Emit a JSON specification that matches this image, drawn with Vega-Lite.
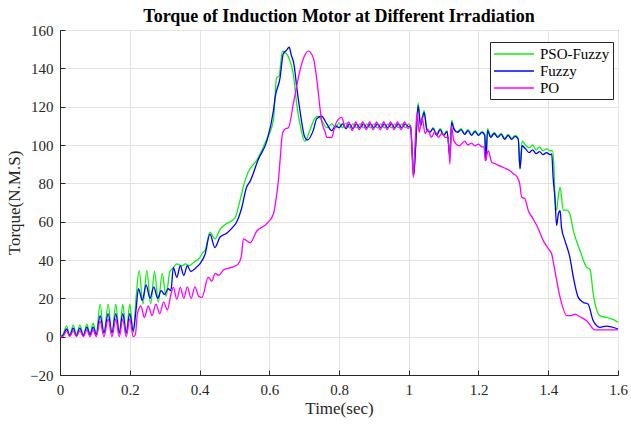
{
"$schema": "https://vega.github.io/schema/vega-lite/v6.json",
"width": 558, "height": 345,
"autosize": {"type": "none"},
"padding": {"left": 60, "top": 30, "right": 13, "bottom": 50},
"title": {"text": "Torque of Induction Motor at Different Irradiation", "font": "Liberation Serif", "fontSize": 18, "fontWeight": "bold", "color": "#000000", "anchor": "middle", "offset": -3},
"config": {"view": {"stroke": "#262626", "strokeWidth": 1}, "font": "Liberation Serif"},
"data": {"values": [
{"s":"PSO-Fuzzy","t":0,"v":0},{"s":"PSO-Fuzzy","t":0.008,"v":1},{"s":"PSO-Fuzzy","t":0.019,"v":5.5},{"s":"PSO-Fuzzy","t":0.028,"v":1},{"s":"PSO-Fuzzy","t":0.038,"v":6},{"s":"PSO-Fuzzy","t":0.047,"v":1},{"s":"PSO-Fuzzy","t":0.057,"v":6},{"s":"PSO-Fuzzy","t":0.067,"v":1},{"s":"PSO-Fuzzy","t":0.077,"v":6.5},{"s":"PSO-Fuzzy","t":0.086,"v":1.5},{"s":"PSO-Fuzzy","t":0.095,"v":7},{"s":"PSO-Fuzzy","t":0.104,"v":1.5},{"s":"PSO-Fuzzy","t":0.115,"v":17},{"s":"PSO-Fuzzy","t":0.126,"v":1.5},{"s":"PSO-Fuzzy","t":0.138,"v":17},{"s":"PSO-Fuzzy","t":0.149,"v":1.5},{"s":"PSO-Fuzzy","t":0.16,"v":17},{"s":"PSO-Fuzzy","t":0.17,"v":1.5},{"s":"PSO-Fuzzy","t":0.18,"v":17},{"s":"PSO-Fuzzy","t":0.19,"v":1.5},{"s":"PSO-Fuzzy","t":0.2,"v":17},{"s":"PSO-Fuzzy","t":0.21,"v":2},{"s":"PSO-Fuzzy","t":0.218,"v":20},{"s":"PSO-Fuzzy","t":0.227,"v":34.5},{"s":"PSO-Fuzzy","t":0.238,"v":17},{"s":"PSO-Fuzzy","t":0.249,"v":34.5},{"s":"PSO-Fuzzy","t":0.26,"v":17},{"s":"PSO-Fuzzy","t":0.271,"v":34},{"s":"PSO-Fuzzy","t":0.282,"v":18},{"s":"PSO-Fuzzy","t":0.293,"v":33},{"s":"PSO-Fuzzy","t":0.304,"v":21},{"s":"PSO-Fuzzy","t":0.315,"v":34},{"s":"PSO-Fuzzy","t":0.325,"v":36},{"s":"PSO-Fuzzy","t":0.335,"v":38},{"s":"PSO-Fuzzy","t":0.35,"v":37},{"s":"PSO-Fuzzy","t":0.36,"v":38},{"s":"PSO-Fuzzy","t":0.37,"v":37},{"s":"PSO-Fuzzy","t":0.385,"v":39},{"s":"PSO-Fuzzy","t":0.4,"v":41},{"s":"PSO-Fuzzy","t":0.41,"v":44},{"s":"PSO-Fuzzy","t":0.416,"v":45},{"s":"PSO-Fuzzy","t":0.43,"v":54.5},{"s":"PSO-Fuzzy","t":0.444,"v":51},{"s":"PSO-Fuzzy","t":0.459,"v":56},{"s":"PSO-Fuzzy","t":0.478,"v":59},{"s":"PSO-Fuzzy","t":0.502,"v":62},{"s":"PSO-Fuzzy","t":0.516,"v":71},{"s":"PSO-Fuzzy","t":0.53,"v":81},{"s":"PSO-Fuzzy","t":0.54,"v":86},{"s":"PSO-Fuzzy","t":0.564,"v":92},{"s":"PSO-Fuzzy","t":0.59,"v":102},{"s":"PSO-Fuzzy","t":0.612,"v":113},{"s":"PSO-Fuzzy","t":0.621,"v":135},{"s":"PSO-Fuzzy","t":0.628,"v":136},{"s":"PSO-Fuzzy","t":0.638,"v":149},{"s":"PSO-Fuzzy","t":0.65,"v":147.5},{"s":"PSO-Fuzzy","t":0.657,"v":145},{"s":"PSO-Fuzzy","t":0.669,"v":137},{"s":"PSO-Fuzzy","t":0.679,"v":121},{"s":"PSO-Fuzzy","t":0.688,"v":111},{"s":"PSO-Fuzzy","t":0.702,"v":102},{"s":"PSO-Fuzzy","t":0.717,"v":108},{"s":"PSO-Fuzzy","t":0.731,"v":114},{"s":"PSO-Fuzzy","t":0.74,"v":115},{"s":"PSO-Fuzzy","t":0.75,"v":113},{"s":"PSO-Fuzzy","t":0.765,"v":109},{"s":"PSO-Fuzzy","t":0.78,"v":111},{"s":"PSO-Fuzzy","t":0.79,"v":109},{"s":"PSO-Fuzzy","t":0.8,"v":111.5},{"s":"PSO-Fuzzy","t":0.81,"v":109},{"s":"PSO-Fuzzy","t":0.82,"v":111.5},{"s":"PSO-Fuzzy","t":0.83,"v":109},{"s":"PSO-Fuzzy","t":0.84,"v":111},{"s":"PSO-Fuzzy","t":0.85,"v":109},{"s":"PSO-Fuzzy","t":0.86,"v":111},{"s":"PSO-Fuzzy","t":0.87,"v":109},{"s":"PSO-Fuzzy","t":0.88,"v":111},{"s":"PSO-Fuzzy","t":0.89,"v":109},{"s":"PSO-Fuzzy","t":0.9,"v":111},{"s":"PSO-Fuzzy","t":0.91,"v":109},{"s":"PSO-Fuzzy","t":0.92,"v":111},{"s":"PSO-Fuzzy","t":0.93,"v":109},{"s":"PSO-Fuzzy","t":0.94,"v":111},{"s":"PSO-Fuzzy","t":0.95,"v":109},{"s":"PSO-Fuzzy","t":0.96,"v":111},{"s":"PSO-Fuzzy","t":0.97,"v":109},{"s":"PSO-Fuzzy","t":0.98,"v":111},{"s":"PSO-Fuzzy","t":0.99,"v":109},{"s":"PSO-Fuzzy","t":1.0,"v":111},{"s":"PSO-Fuzzy","t":1.005,"v":110},{"s":"PSO-Fuzzy","t":1.01,"v":95},{"s":"PSO-Fuzzy","t":1.014,"v":84},{"s":"PSO-Fuzzy","t":1.02,"v":100},{"s":"PSO-Fuzzy","t":1.027,"v":122},{"s":"PSO-Fuzzy","t":1.034,"v":110},{"s":"PSO-Fuzzy","t":1.044,"v":118},{"s":"PSO-Fuzzy","t":1.052,"v":108},{"s":"PSO-Fuzzy","t":1.061,"v":107},{"s":"PSO-Fuzzy","t":1.07,"v":109},{"s":"PSO-Fuzzy","t":1.08,"v":105.5},{"s":"PSO-Fuzzy","t":1.09,"v":108.5},{"s":"PSO-Fuzzy","t":1.1,"v":105.5},{"s":"PSO-Fuzzy","t":1.11,"v":107.5},{"s":"PSO-Fuzzy","t":1.118,"v":94},{"s":"PSO-Fuzzy","t":1.123,"v":113},{"s":"PSO-Fuzzy","t":1.13,"v":108.5},{"s":"PSO-Fuzzy","t":1.14,"v":107},{"s":"PSO-Fuzzy","t":1.15,"v":108.5},{"s":"PSO-Fuzzy","t":1.16,"v":106},{"s":"PSO-Fuzzy","t":1.17,"v":108},{"s":"PSO-Fuzzy","t":1.18,"v":105.5},{"s":"PSO-Fuzzy","t":1.19,"v":107.5},{"s":"PSO-Fuzzy","t":1.2,"v":105.5},{"s":"PSO-Fuzzy","t":1.21,"v":107},{"s":"PSO-Fuzzy","t":1.218,"v":105.5},{"s":"PSO-Fuzzy","t":1.221,"v":92},{"s":"PSO-Fuzzy","t":1.226,"v":108.5},{"s":"PSO-Fuzzy","t":1.235,"v":104.5},{"s":"PSO-Fuzzy","t":1.245,"v":106.5},{"s":"PSO-Fuzzy","t":1.255,"v":104.5},{"s":"PSO-Fuzzy","t":1.265,"v":106},{"s":"PSO-Fuzzy","t":1.275,"v":103.5},{"s":"PSO-Fuzzy","t":1.285,"v":105.5},{"s":"PSO-Fuzzy","t":1.295,"v":103.5},{"s":"PSO-Fuzzy","t":1.305,"v":105},{"s":"PSO-Fuzzy","t":1.314,"v":103.5},{"s":"PSO-Fuzzy","t":1.319,"v":88},{"s":"PSO-Fuzzy","t":1.325,"v":102},{"s":"PSO-Fuzzy","t":1.335,"v":100},{"s":"PSO-Fuzzy","t":1.345,"v":98.5},{"s":"PSO-Fuzzy","t":1.355,"v":100},{"s":"PSO-Fuzzy","t":1.365,"v":97.5},{"s":"PSO-Fuzzy","t":1.375,"v":99},{"s":"PSO-Fuzzy","t":1.385,"v":97},{"s":"PSO-Fuzzy","t":1.395,"v":98},{"s":"PSO-Fuzzy","t":1.405,"v":97},{"s":"PSO-Fuzzy","t":1.412,"v":97},{"s":"PSO-Fuzzy","t":1.416,"v":90},{"s":"PSO-Fuzzy","t":1.42,"v":70},{"s":"PSO-Fuzzy","t":1.424,"v":66},{"s":"PSO-Fuzzy","t":1.428,"v":72},{"s":"PSO-Fuzzy","t":1.434,"v":78},{"s":"PSO-Fuzzy","t":1.443,"v":66},{"s":"PSO-Fuzzy","t":1.453,"v":66},{"s":"PSO-Fuzzy","t":1.462,"v":64},{"s":"PSO-Fuzzy","t":1.472,"v":55.3},{"s":"PSO-Fuzzy","t":1.491,"v":45},{"s":"PSO-Fuzzy","t":1.51,"v":36.2},{"s":"PSO-Fuzzy","t":1.52,"v":35},{"s":"PSO-Fuzzy","t":1.529,"v":22.3},{"s":"PSO-Fuzzy","t":1.548,"v":11},{"s":"PSO-Fuzzy","t":1.567,"v":10},{"s":"PSO-Fuzzy","t":1.586,"v":9},{"s":"PSO-Fuzzy","t":1.6,"v":7.5},
{"s":"Fuzzy","t":0,"v":0},{"s":"Fuzzy","t":0.008,"v":0.5},{"s":"Fuzzy","t":0.019,"v":4},{"s":"Fuzzy","t":0.028,"v":0.5},{"s":"Fuzzy","t":0.038,"v":4.5},{"s":"Fuzzy","t":0.047,"v":0.5},{"s":"Fuzzy","t":0.057,"v":4.5},{"s":"Fuzzy","t":0.067,"v":0.5},{"s":"Fuzzy","t":0.077,"v":5},{"s":"Fuzzy","t":0.086,"v":1},{"s":"Fuzzy","t":0.095,"v":5},{"s":"Fuzzy","t":0.104,"v":1},{"s":"Fuzzy","t":0.115,"v":11},{"s":"Fuzzy","t":0.126,"v":2},{"s":"Fuzzy","t":0.138,"v":12},{"s":"Fuzzy","t":0.149,"v":2},{"s":"Fuzzy","t":0.16,"v":12},{"s":"Fuzzy","t":0.17,"v":2},{"s":"Fuzzy","t":0.18,"v":12},{"s":"Fuzzy","t":0.19,"v":2},{"s":"Fuzzy","t":0.2,"v":12},{"s":"Fuzzy","t":0.21,"v":3},{"s":"Fuzzy","t":0.218,"v":14},{"s":"Fuzzy","t":0.225,"v":25},{"s":"Fuzzy","t":0.236,"v":19},{"s":"Fuzzy","t":0.247,"v":27},{"s":"Fuzzy","t":0.258,"v":20},{"s":"Fuzzy","t":0.269,"v":26},{"s":"Fuzzy","t":0.28,"v":20},{"s":"Fuzzy","t":0.29,"v":24},{"s":"Fuzzy","t":0.3,"v":22},{"s":"Fuzzy","t":0.31,"v":25},{"s":"Fuzzy","t":0.318,"v":24},{"s":"Fuzzy","t":0.325,"v":36},{"s":"Fuzzy","t":0.335,"v":31},{"s":"Fuzzy","t":0.345,"v":37},{"s":"Fuzzy","t":0.355,"v":32},{"s":"Fuzzy","t":0.365,"v":37},{"s":"Fuzzy","t":0.375,"v":34},{"s":"Fuzzy","t":0.39,"v":36},{"s":"Fuzzy","t":0.401,"v":38},{"s":"Fuzzy","t":0.416,"v":43},{"s":"Fuzzy","t":0.43,"v":53.5},{"s":"Fuzzy","t":0.444,"v":46.5},{"s":"Fuzzy","t":0.459,"v":52},{"s":"Fuzzy","t":0.478,"v":54},{"s":"Fuzzy","t":0.495,"v":57},{"s":"Fuzzy","t":0.507,"v":60},{"s":"Fuzzy","t":0.52,"v":66.5},{"s":"Fuzzy","t":0.535,"v":78},{"s":"Fuzzy","t":0.545,"v":81},{"s":"Fuzzy","t":0.569,"v":92.7},{"s":"Fuzzy","t":0.593,"v":102},{"s":"Fuzzy","t":0.612,"v":118},{"s":"Fuzzy","t":0.617,"v":125},{"s":"Fuzzy","t":0.631,"v":135},{"s":"Fuzzy","t":0.64,"v":147.5},{"s":"Fuzzy","t":0.65,"v":149.5},{"s":"Fuzzy","t":0.657,"v":151},{"s":"Fuzzy","t":0.663,"v":147},{"s":"Fuzzy","t":0.671,"v":142},{"s":"Fuzzy","t":0.679,"v":130},{"s":"Fuzzy","t":0.688,"v":118},{"s":"Fuzzy","t":0.702,"v":104},{"s":"Fuzzy","t":0.709,"v":102.6},{"s":"Fuzzy","t":0.726,"v":107.5},{"s":"Fuzzy","t":0.736,"v":113.6},{"s":"Fuzzy","t":0.75,"v":115},{"s":"Fuzzy","t":0.765,"v":111},{"s":"Fuzzy","t":0.779,"v":107.5},{"s":"Fuzzy","t":0.79,"v":110},{"s":"Fuzzy","t":0.8,"v":109},{"s":"Fuzzy","t":0.81,"v":111},{"s":"Fuzzy","t":0.82,"v":108.5},{"s":"Fuzzy","t":0.83,"v":111},{"s":"Fuzzy","t":0.84,"v":108.5},{"s":"Fuzzy","t":0.85,"v":111},{"s":"Fuzzy","t":0.86,"v":109},{"s":"Fuzzy","t":0.87,"v":111},{"s":"Fuzzy","t":0.88,"v":109},{"s":"Fuzzy","t":0.89,"v":111},{"s":"Fuzzy","t":0.9,"v":109},{"s":"Fuzzy","t":0.91,"v":111},{"s":"Fuzzy","t":0.92,"v":109},{"s":"Fuzzy","t":0.93,"v":111},{"s":"Fuzzy","t":0.94,"v":109},{"s":"Fuzzy","t":0.95,"v":111},{"s":"Fuzzy","t":0.96,"v":109},{"s":"Fuzzy","t":0.97,"v":111},{"s":"Fuzzy","t":0.98,"v":109},{"s":"Fuzzy","t":0.99,"v":111},{"s":"Fuzzy","t":1.0,"v":109.5},{"s":"Fuzzy","t":1.005,"v":110},{"s":"Fuzzy","t":1.01,"v":95},{"s":"Fuzzy","t":1.014,"v":84},{"s":"Fuzzy","t":1.02,"v":100},{"s":"Fuzzy","t":1.027,"v":120.5},{"s":"Fuzzy","t":1.034,"v":110},{"s":"Fuzzy","t":1.044,"v":117},{"s":"Fuzzy","t":1.052,"v":108},{"s":"Fuzzy","t":1.061,"v":106.6},{"s":"Fuzzy","t":1.07,"v":108.5},{"s":"Fuzzy","t":1.08,"v":105},{"s":"Fuzzy","t":1.09,"v":108},{"s":"Fuzzy","t":1.1,"v":105},{"s":"Fuzzy","t":1.11,"v":107},{"s":"Fuzzy","t":1.118,"v":93.5},{"s":"Fuzzy","t":1.123,"v":111.8},{"s":"Fuzzy","t":1.13,"v":108},{"s":"Fuzzy","t":1.14,"v":106.6},{"s":"Fuzzy","t":1.15,"v":108},{"s":"Fuzzy","t":1.16,"v":105.5},{"s":"Fuzzy","t":1.17,"v":107.5},{"s":"Fuzzy","t":1.18,"v":105},{"s":"Fuzzy","t":1.19,"v":107},{"s":"Fuzzy","t":1.2,"v":105},{"s":"Fuzzy","t":1.21,"v":106.6},{"s":"Fuzzy","t":1.218,"v":105},{"s":"Fuzzy","t":1.221,"v":91.8},{"s":"Fuzzy","t":1.226,"v":107.5},{"s":"Fuzzy","t":1.235,"v":104},{"s":"Fuzzy","t":1.245,"v":106},{"s":"Fuzzy","t":1.255,"v":104},{"s":"Fuzzy","t":1.265,"v":105.5},{"s":"Fuzzy","t":1.275,"v":103},{"s":"Fuzzy","t":1.285,"v":105},{"s":"Fuzzy","t":1.295,"v":103},{"s":"Fuzzy","t":1.305,"v":104.5},{"s":"Fuzzy","t":1.314,"v":103},{"s":"Fuzzy","t":1.319,"v":87.5},{"s":"Fuzzy","t":1.325,"v":99.6},{"s":"Fuzzy","t":1.335,"v":98},{"s":"Fuzzy","t":1.345,"v":96},{"s":"Fuzzy","t":1.355,"v":97.5},{"s":"Fuzzy","t":1.365,"v":95.5},{"s":"Fuzzy","t":1.375,"v":96.5},{"s":"Fuzzy","t":1.385,"v":95},{"s":"Fuzzy","t":1.395,"v":96},{"s":"Fuzzy","t":1.405,"v":95},{"s":"Fuzzy","t":1.41,"v":95.3},{"s":"Fuzzy","t":1.414,"v":83},{"s":"Fuzzy","t":1.419,"v":72.7},{"s":"Fuzzy","t":1.424,"v":58},{"s":"Fuzzy","t":1.429,"v":64},{"s":"Fuzzy","t":1.434,"v":65.7},{"s":"Fuzzy","t":1.438,"v":57},{"s":"Fuzzy","t":1.448,"v":50},{"s":"Fuzzy","t":1.462,"v":41.4},{"s":"Fuzzy","t":1.472,"v":31},{"s":"Fuzzy","t":1.486,"v":20.5},{"s":"Fuzzy","t":1.5,"v":17.9},{"s":"Fuzzy","t":1.514,"v":17},{"s":"Fuzzy","t":1.529,"v":8.3},{"s":"Fuzzy","t":1.548,"v":4.9},{"s":"Fuzzy","t":1.567,"v":5.5},{"s":"Fuzzy","t":1.6,"v":4},
{"s":"PO","t":0,"v":0},{"s":"PO","t":0.008,"v":0},{"s":"PO","t":0.019,"v":3},{"s":"PO","t":0.028,"v":0},{"s":"PO","t":0.038,"v":3},{"s":"PO","t":0.047,"v":0},{"s":"PO","t":0.057,"v":3},{"s":"PO","t":0.067,"v":0},{"s":"PO","t":0.077,"v":3.5},{"s":"PO","t":0.086,"v":0},{"s":"PO","t":0.095,"v":3.5},{"s":"PO","t":0.104,"v":0},{"s":"PO","t":0.115,"v":8},{"s":"PO","t":0.126,"v":0},{"s":"PO","t":0.138,"v":9},{"s":"PO","t":0.149,"v":0},{"s":"PO","t":0.16,"v":9},{"s":"PO","t":0.17,"v":0},{"s":"PO","t":0.18,"v":9},{"s":"PO","t":0.19,"v":0},{"s":"PO","t":0.2,"v":9},{"s":"PO","t":0.21,"v":0},{"s":"PO","t":0.216,"v":1},{"s":"PO","t":0.222,"v":12},{"s":"PO","t":0.232,"v":16},{"s":"PO","t":0.242,"v":10},{"s":"PO","t":0.253,"v":16},{"s":"PO","t":0.264,"v":11},{"s":"PO","t":0.275,"v":17},{"s":"PO","t":0.286,"v":12},{"s":"PO","t":0.297,"v":18},{"s":"PO","t":0.308,"v":14},{"s":"PO","t":0.318,"v":22},{"s":"PO","t":0.325,"v":25.7},{"s":"PO","t":0.335,"v":19.6},{"s":"PO","t":0.345,"v":25.7},{"s":"PO","t":0.355,"v":20},{"s":"PO","t":0.365,"v":26},{"s":"PO","t":0.376,"v":20},{"s":"PO","t":0.387,"v":26},{"s":"PO","t":0.398,"v":21},{"s":"PO","t":0.407,"v":20.5},{"s":"PO","t":0.425,"v":31},{"s":"PO","t":0.435,"v":29},{"s":"PO","t":0.445,"v":33},{"s":"PO","t":0.455,"v":32},{"s":"PO","t":0.47,"v":35},{"s":"PO","t":0.49,"v":36},{"s":"PO","t":0.511,"v":38},{"s":"PO","t":0.52,"v":42},{"s":"PO","t":0.526,"v":51},{"s":"PO","t":0.545,"v":49},{"s":"PO","t":0.564,"v":55},{"s":"PO","t":0.593,"v":59},{"s":"PO","t":0.612,"v":64},{"s":"PO","t":0.622,"v":75},{"s":"PO","t":0.626,"v":81},{"s":"PO","t":0.631,"v":92},{"s":"PO","t":0.638,"v":106},{"s":"PO","t":0.645,"v":108.3},{"s":"PO","t":0.655,"v":109},{"s":"PO","t":0.669,"v":121.4},{"s":"PO","t":0.688,"v":138.8},{"s":"PO","t":0.7,"v":146},{"s":"PO","t":0.712,"v":149},{"s":"PO","t":0.726,"v":145.7},{"s":"PO","t":0.738,"v":131.8},{"s":"PO","t":0.745,"v":120},{"s":"PO","t":0.75,"v":112.7},{"s":"PO","t":0.76,"v":107},{"s":"PO","t":0.765,"v":104},{"s":"PO","t":0.779,"v":104},{"s":"PO","t":0.786,"v":108},{"s":"PO","t":0.793,"v":112},{"s":"PO","t":0.808,"v":114.4},{"s":"PO","t":0.818,"v":109},{"s":"PO","t":0.828,"v":112},{"s":"PO","t":0.838,"v":107.5},{"s":"PO","t":0.848,"v":112},{"s":"PO","t":0.858,"v":108},{"s":"PO","t":0.868,"v":112},{"s":"PO","t":0.878,"v":108},{"s":"PO","t":0.888,"v":112},{"s":"PO","t":0.898,"v":108},{"s":"PO","t":0.908,"v":112},{"s":"PO","t":0.918,"v":108},{"s":"PO","t":0.928,"v":112},{"s":"PO","t":0.938,"v":108},{"s":"PO","t":0.948,"v":112},{"s":"PO","t":0.958,"v":108},{"s":"PO","t":0.968,"v":112},{"s":"PO","t":0.978,"v":108},{"s":"PO","t":0.988,"v":112},{"s":"PO","t":0.998,"v":108.5},{"s":"PO","t":1.006,"v":110},{"s":"PO","t":1.01,"v":95},{"s":"PO","t":1.013,"v":83},{"s":"PO","t":1.018,"v":100},{"s":"PO","t":1.024,"v":117},{"s":"PO","t":1.03,"v":106.6},{"s":"PO","t":1.038,"v":114.4},{"s":"PO","t":1.047,"v":106},{"s":"PO","t":1.055,"v":108},{"s":"PO","t":1.065,"v":104},{"s":"PO","t":1.075,"v":107},{"s":"PO","t":1.085,"v":104},{"s":"PO","t":1.095,"v":106},{"s":"PO","t":1.105,"v":104},{"s":"PO","t":1.113,"v":104},{"s":"PO","t":1.118,"v":90},{"s":"PO","t":1.122,"v":110},{"s":"PO","t":1.13,"v":102},{"s":"PO","t":1.145,"v":99.6},{"s":"PO","t":1.16,"v":102},{"s":"PO","t":1.17,"v":100},{"s":"PO","t":1.18,"v":101},{"s":"PO","t":1.19,"v":99.5},{"s":"PO","t":1.2,"v":100.5},{"s":"PO","t":1.21,"v":99},{"s":"PO","t":1.216,"v":99},{"s":"PO","t":1.219,"v":91.8},{"s":"PO","t":1.228,"v":97},{"s":"PO","t":1.238,"v":91},{"s":"PO","t":1.25,"v":90},{"s":"PO","t":1.262,"v":89},{"s":"PO","t":1.275,"v":88},{"s":"PO","t":1.29,"v":86.6},{"s":"PO","t":1.3,"v":85},{"s":"PO","t":1.31,"v":83.5},{"s":"PO","t":1.318,"v":80},{"s":"PO","t":1.324,"v":72.7},{"s":"PO","t":1.333,"v":72},{"s":"PO","t":1.343,"v":65.7},{"s":"PO","t":1.357,"v":61.4},{"s":"PO","t":1.372,"v":56},{"s":"PO","t":1.386,"v":50},{"s":"PO","t":1.4,"v":46},{"s":"PO","t":1.41,"v":43},{"s":"PO","t":1.419,"v":34.4},{"s":"PO","t":1.434,"v":20.5},{"s":"PO","t":1.453,"v":11},{"s":"PO","t":1.465,"v":11},{"s":"PO","t":1.477,"v":11.7},{"s":"PO","t":1.49,"v":10.5},{"s":"PO","t":1.51,"v":8.3},{"s":"PO","t":1.534,"v":3.5},{"s":"PO","t":1.56,"v":3.5},{"s":"PO","t":1.6,"v":3.5}
]},
"mark": {"type": "line", "strokeWidth": 1.3, "interpolate": "monotone"},
"encoding": {
"x": {"field": "t", "type": "quantitative", "scale": {"domain": [0, 1.6], "nice": false, "zero": false},
 "axis": {"values": [0,0.2,0.4,0.6,0.8,1,1.2,1.4,1.6], "format": "~g", "title": "Time(sec)", "titleFont": "Liberation Serif", "titleFontSize": 17, "titleFontWeight": "normal", "titleColor": "#262626", "titlePadding": 3, "labelFont": "Liberation Serif", "labelFontSize": 15, "labelColor": "#262626", "labelPadding": 12, "tickSize": -5, "tickColor": "#262626", "domainColor": "#262626", "gridColor": "#e3e3e3", "labelFlush": false}},
"y": {"field": "v", "type": "quantitative", "scale": {"domain": [-20, 160], "nice": false, "zero": false},
 "axis": {"values": [-20,0,20,40,60,80,100,120,140,160], "title": "Torque(N.M.S)", "titleFont": "Liberation Serif", "titleFontSize": 17, "titleFontWeight": "normal", "titleColor": "#262626", "titlePadding": 6, "labelFont": "Liberation Serif", "labelFontSize": 15, "labelColor": "#262626", "labelPadding": 12, "tickSize": -5, "tickColor": "#262626", "domainColor": "#262626", "gridColor": "#e3e3e3", "labelFlush": false}},
"color": {"field": "s", "type": "nominal", "scale": {"domain": ["PSO-Fuzzy", "Fuzzy", "PO"], "range": ["#11ee11", "#0000ff", "#ff00ff"]},
 "legend": {"orient": "none", "legendX": 430, "legendY": 12, "title": null, "symbolType": "M-1,0H4", "symbolSize": 256, "symbolStrokeWidth": 1.5, "labelFont": "Liberation Serif", "labelFontSize": 15, "labelColor": "#000000", "strokeColor": "#262626", "fillColor": "#ffffff", "padding": 3, "rowPadding": -1.5, "labelOffset": 29}}
}
}
